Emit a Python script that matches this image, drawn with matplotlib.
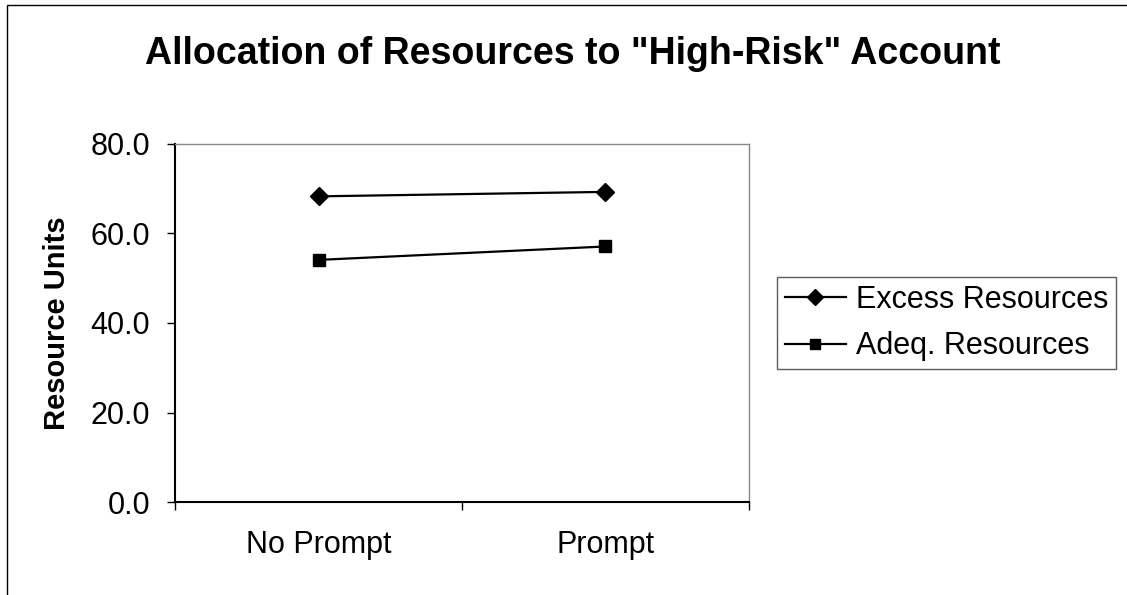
import matplotlib
matplotlib.use("Agg")
import matplotlib.pyplot as plt
from matplotlib.patches import Rectangle

plt.rcParams['font.family'] = ['Liberation Sans', 'DejaVu Sans']

categories = ["No Prompt", "Prompt"]
excess = [68.3, 69.3]
adequate = [54.1, 57.1]
series_names = ["Excess Resources", "Adeq. Resources"]
y_ticks = [0, 20, 40, 60, 80]
title = 'Allocation of Resources to "High-Risk" Account'
y_label = "Resource Units"

W, H = 1127, 595
fig = plt.figure(figsize=(W / 100, H / 100), dpi=100)

# outer chart border (left and top visible)
fig.add_artist(Rectangle((7 / W, -0.1), 1.2, 1 - 5 / H + 0.1, transform=fig.transFigure,
                         fill=False, edgecolor='black', linewidth=1.0))

left, right, top, bottom = 175, 749, 144, 502
ax = fig.add_axes([left / W, 1 - bottom / H, (right - left) / W, (bottom - top) / H])

xs = list(range(1, len(categories) + 1))
ax.plot(xs, excess, color='black', linewidth=1.6, marker='D', markersize=9,
        markerfacecolor='black', markeredgecolor='black', label=series_names[0])
ax.plot(xs, adequate, color='black', linewidth=1.6, marker='s', markersize=9,
        markerfacecolor='black', markeredgecolor='black', label=series_names[1])

ax.set_ylim(0, 80)
ax.set_xlim(0.5, len(categories) + 0.5)
ax.set_yticks(y_ticks)
ax.set_yticklabels([f"{v:.1f}" for v in y_ticks], fontsize=22)
ax.set_xticks([0.5 + i for i in range(len(categories) + 1)])
ax.set_xticklabels([])
ax.set_xticks(xs, minor=True)
ax.set_xticklabels(categories, minor=True, fontsize=22)
ax.tick_params(axis='x', which='minor', length=0, pad=20)
ax.tick_params(axis='x', which='major', length=6, width=1, direction='out')
ax.tick_params(axis='y', length=6, width=1, direction='out', pad=12)

for s in ['top', 'right']:
    ax.spines[s].set_color('#888888')
    ax.spines[s].set_linewidth(1.0)
for s in ['left', 'bottom']:
    ax.spines[s].set_color('black')
    ax.spines[s].set_linewidth(1.5)

fig.text(57 / W, 1 - 323 / H, y_label, fontsize=21, fontweight='bold',
         rotation=90, ha='center', va='center')

fig.text(573 / W, 1 - 54 / H, title, fontsize=27, fontweight='bold',
         ha='center', va='center')

leg = ax.legend(loc='center left', bbox_to_anchor=(777 / W, 1 - 323 / H),
                bbox_transform=fig.transFigure, fontsize=22, frameon=True,
                fancybox=False, edgecolor='#333333', handlelength=2.0,
                handletextpad=0.35, borderpad=0.25, labelspacing=0.55,
                borderaxespad=0, markerscale=0.85)
leg.get_frame().set_linewidth(1.0)

fig.savefig("out.png", dpi=100)
